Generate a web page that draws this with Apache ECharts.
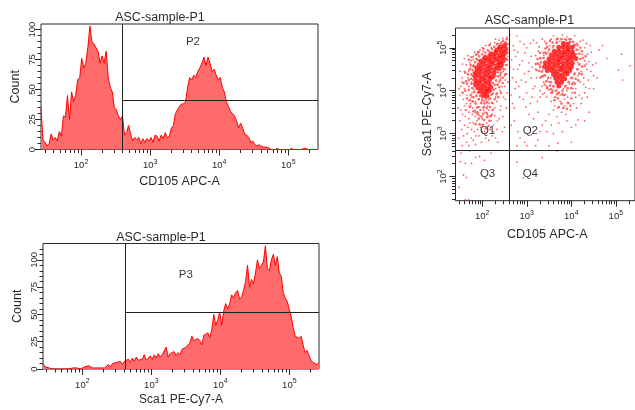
<!DOCTYPE html>
<html><head><meta charset="utf-8">
<style>html,body{margin:0;padding:0;background:#fff;overflow:hidden}#c{width:635px;height:410px}</style>
<script src="https://cdn.jsdelivr.net/npm/echarts@6/dist/echarts.min.js"></script></head>
<body><div id="c"></div>
<script>
const titleText = 'ASC-sample-P1';
const countTicks = [0,25,50,75,100];
const decades = [2,3,4,5];
// Histogram heights, every ~2px from the left edge of each plot
const cd105Counts = [34,8,6,3,5,13,8,10,7,15,11,28,27,45,25,48,40,45,58,60,76,68,72,85,103,90,88,85,82,72,78,72,82,60,52,48,35,33,28,25,28,12,14,20,13,7,10,8,10,5,9,6,9,7,10,6,12,11,7,12,9,14,10,11,18,20,30,33,36,38,38,40,52,60,58,62,60,65,68,72,77,70,77,72,65,67,62,58,60,52,48,40,36,32,30,28,24,18,22,18,13,12,10,6,7,4,3,4,3,2,2,2,1,0,0,0,1,0,0,0,0,0,0,1,0,0,0,0,0,1,1,0,0,0,0,0,0];
const sca1Counts = [5,2,2,1,0,0,0,0,0,0,1,0,0,0,0,1,0,1,1,0,1,2,1,3,2,1,2,1,2,1,1,1,2,4,2,5,4,6,5,7,4,7,6,9,6,10,7,11,8,7,9,13,8,10,12,9,13,10,14,11,13,12,20,11,14,13,16,12,15,13,18,17,20,22,24,30,26,25,28,26,22,31,30,33,29,36,50,40,45,52,40,53,60,55,60,68,65,70,72,64,66,72,80,95,75,82,78,88,100,92,95,98,113,92,90,100,105,95,103,88,85,70,65,62,55,48,38,30,30,28,30,22,15,17,12,8,6,5,4,6];
// Gate positions in data units
const gateHist1 = {x:393, y:41}, gateHist2 = {x:420, y:52}, gateDot = {x:400, y:420};
// Scatter values, as log10(CD105), log10(Sca1) pairs
const coreLeft = [[2.4,5.02],[2.5,5.05],[2.33,4.95],[2.43,4.93],[2.53,4.96],[2.2,4.86],[2.3,4.87],[2.4,4.84],[2.5,4.87],[2.07,4.78],[2.17,4.77],[2.27,4.79],[2.37,4.76],[2.47,4.79],[1.98,4.69],[2.08,4.7],[2.18,4.68],[2.28,4.71],[2.38,4.67],[2.47,4.7],[1.93,4.6],[2.03,4.61],[2.13,4.59],[2.23,4.62],[2.33,4.59],[2.43,4.61],[1.88,4.51],[1.98,4.52],[2.08,4.5],[2.18,4.53],[2.28,4.5],[2.38,4.52],[1.86,4.42],[1.96,4.43],[2.06,4.41],[2.16,4.44],[2.26,4.41],[1.84,4.33],[1.94,4.34],[2.04,4.32],[2.14,4.35],[2.23,4.32],[1.87,4.24],[1.97,4.25],[2.07,4.23],[2.17,4.26],[1.85,4.16],[1.95,4.16],[2.05,4.14],[2.15,4.17],[1.9,4.07],[2,4.07],[2.1,4.05],[2.19,4.08],[1.96,3.98],[2.06,3.97],[2.14,3.99],[2.02,3.89],[2.11,3.88]];
const coreRight = [[3.82,5.1],[3.92,5.08],[3.72,5.01],[3.82,5.01],[3.92,4.99],[4.02,5.01],[3.62,4.92],[3.72,4.92],[3.82,4.91],[3.92,4.92],[4.02,4.91],[3.55,4.83],[3.65,4.83],[3.75,4.82],[3.85,4.84],[3.95,4.82],[4.05,4.83],[3.5,4.74],[3.6,4.74],[3.7,4.73],[3.8,4.75],[3.9,4.73],[4,4.74],[4.1,4.75],[3.42,4.65],[3.52,4.65],[3.62,4.64],[3.72,4.66],[3.82,4.64],[3.92,4.65],[4.02,4.64],[3.4,4.56],[3.5,4.56],[3.6,4.55],[3.7,4.57],[3.8,4.55],[3.9,4.56],[4,4.55],[3.46,4.47],[3.56,4.47],[3.66,4.46],[3.76,4.48],[3.86,4.46],[3.96,4.47],[3.6,4.38],[3.7,4.38],[3.8,4.37],[3.9,4.39],[3.65,4.29],[3.75,4.29],[3.85,4.28],[3.68,4.2],[3.78,4.2],[3.72,4.11]];
const haloDots = [
[2.55,5.2],[2.47,5.16],[2.52,5.12],[2.42,5.1],[2.57,5.08],[2.33,5.08],[2.27,5.02],[2.22,4.97],[2.14,4.93],[2.07,4.89],[2.0,4.85],[1.93,4.8],[1.88,4.73],[1.84,4.66],[1.8,4.57],[1.78,4.48],[1.76,4.38],[1.75,4.28],[1.76,4.16],[1.78,4.06],[1.82,3.97],[1.87,3.88],[1.92,3.8],[1.98,3.72],[2.05,3.7],[2.12,3.74],[2.18,3.82],[2.22,3.92],[2.26,4.02],[2.28,4.14],[2.31,4.24],[2.36,4.33],[2.42,4.42],[2.48,4.5],[2.53,4.6],[2.56,4.72],[2.57,4.88],
[2.36,5.0],[2.46,5.0],[2.28,4.93],[2.14,4.84],[2.02,4.76],[1.92,4.7],[1.84,4.56],[1.81,4.42],[1.8,4.25],[1.83,4.1],[1.9,3.96],[2.2,4.0],[2.24,4.18],[2.3,4.34],[2.35,4.43],[2.45,4.55],[2.53,4.75],[1.95,3.88],[2.08,3.8],[2.0,3.78],
[1.72,4.5],[1.7,4.25],[1.7,4.02],[1.74,3.9],[1.68,4.38],[1.66,4.16],[1.8,3.85],[1.85,3.7],[1.9,3.62],[1.96,3.55],[2.04,3.62],[2.1,3.6],[2.17,3.62],[2.22,3.72],[2.28,3.8],[2.32,3.92],[2.38,4.08],[2.4,4.24],[2.46,4.3],[1.86,4.84],[1.92,4.9],[2.03,4.98],[2.16,5.06],
[1.9,3.45],[1.98,3.4],[2.04,3.32],[2.1,3.48],[2.16,3.3],[1.94,3.22],[2.0,3.2],[2.08,3.12],[2.14,3.18],[1.85,3.22],
[1.62,4.42],[1.64,4.22],[1.62,4.0],[1.66,3.82],[1.72,3.78],[1.78,3.75],[1.74,4.6],[1.7,4.72],[1.76,4.78],[1.58,4.18],[1.56,3.95],[1.72,3.62],[1.8,3.52],[1.86,3.5],[1.92,3.35],[2.02,3.46],[2.24,3.55],[2.12,3.4],[2.2,3.42],[2.36,3.85],[2.42,3.95],[2.34,4.14],[2.46,4.18],[2.52,4.38],[2.4,4.36],
[3.78,5.2],[3.88,5.18],[3.98,5.14],[3.68,5.12],[3.6,5.04],[3.5,4.96],[3.44,4.86],[3.38,4.76],[3.32,4.66],[3.3,4.55],[3.34,4.44],[3.4,4.36],[3.48,4.3],[3.54,4.2],[3.6,4.1],[3.65,4.0],[3.72,3.96],[3.8,4.0],[3.86,4.1],[3.94,4.2],[4.02,4.3],[4.08,4.4],[4.14,4.5],[4.18,4.62],[4.2,4.74],[4.18,4.86],[4.12,4.96],[4.08,5.06],
[3.68,5.2],[3.58,5.12],[3.96,5.2],[4.04,5.14],[4.14,5.06],[3.46,5.02],[3.38,4.88],[3.3,4.76],[3.26,4.62],[3.28,4.46],[3.36,4.34],[3.44,4.22],[3.52,4.12],[3.58,4.0],[3.68,3.92],[3.8,3.92],[3.92,4.06],[4.02,4.16],[4.1,4.28],[4.18,4.4],[4.24,4.56],[4.26,4.76],[4.24,4.92],
[3.55,3.95],[3.62,3.78],[3.7,3.82],[3.78,3.7],[3.85,3.9],[3.92,3.72],[4.0,3.82],[4.08,3.95],[3.72,3.62],[3.82,3.6],[3.9,3.58],[3.98,3.65],
[3.2,4.62],[3.22,4.48],[3.24,4.74],[3.3,4.88],[3.42,4.98],[3.32,4.32],[3.4,4.14],[3.46,4.06],[3.54,4.04],[4.0,4.06],[4.08,4.16],[4.16,4.24],[4.24,4.38],[4.3,4.58],[4.32,4.8],[4.2,5.0],[3.52,5.16],[3.44,5.1]
];
const sparseDots = [
[1.5,3.9],[1.55,4.2],[1.6,4.45],[1.65,3.7],[1.7,4.1],[1.72,4.65],[1.75,3.85],[1.78,4.35],[1.8,4.8],[1.6,4.05],[1.68,4.3],[1.52,4.1],[1.62,3.55],[1.7,3.5],[1.74,4.55],[1.77,3.95],[1.8,4.6],[1.83,4.9],[1.85,3.75],[1.88,3.6],[1.9,4.85],[1.93,3.8],[1.95,4.95],[1.98,3.7],[2,5.0],[2.03,3.55],[2.05,3.75],[2.08,5.05],[2.12,3.65],[2.15,3.8],[2.2,3.9],[2.18,5.1],[2.25,3.95],[2.28,5.12],[2.3,4.05],[2.35,4.15],[2.38,5.18],[2.42,4.3],[2.46,5.22],[2.5,4.35],[2.55,5.25],[2.4,4.0],[2.33,3.75],[2.28,3.6],[2.22,3.45],[2.5,4.1],[2.56,4.6],[2.57,4.8],[2.55,4.4],[2.48,3.85],[2.42,3.65],
[1.46,3.6],[1.5,3.3],[1.54,3.1],[1.58,2.95],[1.62,3.4],[1.65,2.8],[1.68,3.15],[1.72,3.25],[1.75,2.9],[1.78,3.45],[1.82,3.05],[1.85,2.75],[1.88,3.3],[1.9,3.5],[1.93,2.95],[1.96,3.15],[1.98,2.8],[2.0,3.35],[2.02,3.6],[2.05,3.05],[2.08,2.9],[2.1,3.25],[2.12,3.45],[2.15,2.85],[2.18,3.1],[2.2,3.3],[2.22,2.95],[2.25,3.2],[2.3,2.9],[2.33,3.1],[2.38,3.35],[2.45,3.05],[2.5,3.15],[1.55,2.72],[1.7,2.72],[1.6,3.65],[1.74,3.65],[1.84,3.4],[1.94,3.42],[1.99,3.05],[2.03,3.22],[2.06,3.5],[2.1,3.38],[2.14,3.55],[2.17,3.4],[1.47,2.9],[1.52,3.55],[1.66,3.0],[1.8,2.85],[2.28,3.42],[2.35,2.8],
[1.51,2.35],[1.62,2.31],[1.76,2.31],[1.94,2.47],[1.58,2.04],[1.62,1.46],[1.69,1.46],[1.52,2.55],[1.72,2.6],[2.05,2.38],[2.2,2.55],[1.85,2.45],[1.65,1.98],[1.48,1.75],
[2.78,2.34],[2.92,1.97],[3.35,2.45],[3.68,2.6],
[2.62,5.3],[2.7,5.05],[2.75,4.8],[2.8,4.5],[2.68,4.3],[2.72,4.95],[2.85,5.15],[2.9,4.7],[2.95,4.4],[2.82,4.1],[3,5.0],[3.05,4.65],[3.1,4.3],[3.0,3.95],[3.15,5.18],[3.2,4.82],[3.2,4.5],[3.18,4.1],[3.28,5.02],[3.3,4.3],[3.3,3.85],[3.35,5.2],[2.65,3.9],[2.72,3.6],[2.62,4.55],[2.78,5.28],[2.92,3.8],[2.88,4.25],[3.08,3.7],[3.12,4.55],[3.4,5.15],[3.42,4.9],[3.38,4.2],[3.45,4.1],[3.55,5.2],[3.6,5.28],[3.52,5.05],[3.7,5.22],[3.8,5.3],[3.9,5.25],[4.0,5.2],[4.08,5.28],[4.12,5.1],[4.15,4.95],[4.2,5.15],[4.25,4.85],[4.3,5.0],[4.18,4.6],[4.22,4.45],[4.3,4.7],[4.35,4.5],[4.15,4.35],[4.2,4.2],[4.28,4.15],[4.05,4.2],[4.1,4.05],[4.38,4.25],[4.45,4.9],[4.5,4.35],[4.55,4.65],[4.62,4.95],[4.4,4.05],[4.5,4.05],[4.58,4.3],
[3.3,4.0],[3.4,3.95],[3.45,3.85],[3.5,4.02],[3.55,3.75],[3.58,3.95],[3.62,3.65],[3.65,3.85],[3.7,3.6],[3.72,3.95],[3.75,3.75],[3.78,3.5],[3.82,3.9],[3.85,3.65],[3.88,3.45],[3.92,3.85],[3.95,3.7],[3.98,3.55],[4.02,3.95],[4.05,3.7],[4.1,3.85],[4.12,3.6],[4.18,3.9],[4.22,3.7],[4.3,3.95],[3.6,3.55],[3.5,3.45],[3.68,3.4],[3.42,3.3],[3.35,3.2],[3.55,3.2],[3.45,3.05],[3.3,3.05],[3.6,3.0],[3.72,3.25],[3.8,3.05],[3.9,3.3],[4,3.15],[4.1,3.2],[4.15,3.32],[4.3,3.3],[4.4,3.5],[3.25,2.85],[3.1,2.98],[3.05,3.15],[2.95,2.8],[3.0,2.72],[3.2,2.72],[3.5,2.72],[3.7,2.78],[4.0,2.8],[2.8,3.05],[2.72,3.3],[2.65,3.2],[2.85,2.9],[2.78,2.72],[3.15,3.35],[3.25,3.5],[3.05,3.45],
[4.7,5.05],[5.13,4.85],[5.32,4.58],[5.15,4.25],[5.06,4.48],[4.8,4.75],
[1.55,4.3],[1.58,3.8],[1.64,4.6],[1.66,3.9],[1.7,4.45],[1.74,3.7],[1.76,4.2],[1.78,3.6],[1.8,3.75],[1.82,4.02],[1.84,3.55],[1.75,4.7],[1.8,4.72],[1.86,4.75],[1.9,4.9],[1.94,3.62],[2,3.82],[2.06,3.85],[2.1,3.72],[2.16,3.7],[2.24,3.7],[2.3,3.85],[2.34,3.95],[2.38,4.2],[2.44,4.1],[2.47,4.45],[2.52,4.5],[2.52,4.25],[2.3,5.2],[2.36,5.1],[2.44,5.14],[2.2,5.0],[2.12,4.95],[2.02,4.92],[2.54,5.12],[2.55,4.75],[2.57,5.0],
[3.3,4.6],[3.32,4.75],[3.36,4.48],[3.38,4.82],[3.42,4.35],[3.46,4.25],[3.5,4.2],[3.48,4.9],[3.58,5.0],[3.66,5.12],[3.74,5.15],[3.85,5.2],[3.96,5.14],[4.06,5.08],[4.12,4.85],[4.14,4.66],[4.12,4.5],[4.06,4.38],[3.98,4.3],[3.96,4.15],[3.88,4.12],[3.82,4.05],[3.68,4.02],[3.6,4.12],[3.54,4.3],[4.04,4.05],[3.9,4.0],[3.62,3.85],[3.75,3.9],[3.85,3.8],
[1.56,4.62],[1.6,4.75],[1.68,4.82],[1.5,4.45],[1.48,4.05],[1.56,3.45],[1.6,3.2],[1.64,3.55],[1.7,3.35],[1.76,3.1],[1.8,3.25],[1.86,2.95],[1.9,3.1],[2.26,3.05],[2.34,3.3],[2.4,3.55],[2.46,3.4],[2.54,3.6],[2.52,3.8],[2.56,3.95],[2.58,4.2],
[2.66,4.72],[2.7,4.5],[2.76,4.2],[2.8,4.9],[2.84,4.6],[2.96,4.88],[2.98,4.2],[3.04,4.45],[3.1,4.8],[3.14,4.05],[3.22,4.3],[3.24,4.65],[3.26,4.92],[2.94,5.08],[3.08,5.1],[3.22,5.12],[3.34,4.1],[3.36,3.92],[3.24,3.75],[3.12,3.85],[2.98,3.62],[2.84,3.85],[2.74,4.05],[2.68,3.7],
[4.28,4.3],[4.34,4.62],[4.36,4.85],[4.4,4.68],[4.44,4.45],[4.48,4.6],[4.32,4.08],[4.36,3.85],[4.24,3.82],[4.34,5.1],[4.26,5.18],[4.42,5.05]
];
const xMinor = [], xMajor = decades.map(d => Math.pow(10,d));
[1,2,3,4,5].forEach(d => [1,2,3,4,5,6,7,8,9].forEach(m => { const v = m*Math.pow(10,d); if (v>26 && v<2.7e5) xMinor.push(v); }));
const dec = e => Math.pow(10,e);
const ink = '#2a2a2a', font = 'Liberation Sans';
const supLabel = v => '{a|10}{b|' + Math.round(Math.log10(v)) + '}';
const rich = {a:{fontSize:9.5,color:ink,fontFamily:font},b:{fontSize:7,color:ink,fontFamily:font,verticalAlign:'bottom',padding:[0,0,7,0]}};
const rect = [{l:41,t:24,w:277,h:125.5,xr:[1.42,5.43],ymax:104.7},{l:43,t:243.5,w:276,h:125.5,xr:[1.43,5.43],ymax:115},{l:455.5,t:28,w:185.5,h:172.7,xr:[1.4,5.43]}];
const grids = rect.map(r => ({left:r.l,top:r.t,width:r.w,height:r.h,show:true,borderColor:ink,borderWidth:1,backgroundColor:'transparent',containLabel:false}));
const names = ['CD105 APC-A','Sca1 PE-Cy7-A','CD105 APC-A'];
const nameGap = [26,25,27];
const namePad = [[0,0,0,0],[0,0,0,0],[0,0,0,4]];
const xAxes = [], yAxes = [];
rect.forEach((r,i) => {
  const base = {type:'log',logBase:10,gridIndex:i,position:'bottom',min:dec(r.xr[0]),max:dec(r.xr[1]),splitLine:{show:false},minorSplitLine:{show:false},axisLine:{show:false}};
  xAxes.push({...base,axisLabel:{show:false},axisTick:{show:true,length:3.5,inside:false,customValues:xMinor,lineStyle:{color:ink,width:1}}});
  xAxes.push({...base,name:names[i],nameLocation:'middle',nameGap:nameGap[i],nameTextStyle:{fontFamily:font,fontSize:i===1?12:12.5,color:ink,padding:namePad[i]},
    axisTick:{show:true,length:6,customValues:xMajor,lineStyle:{color:ink,width:1}},
    axisLabel:{show:true,customValues:xMajor,margin:9,formatter:supLabel,rich}});
});
[0,1].forEach(i => yAxes.push({type:'value',gridIndex:i,position:'left',min:0,max:rect[i].ymax,interval:25,name:'Count',nameLocation:'middle',nameGap:19,nameTextStyle:{fontFamily:font,fontSize:12.5,color:ink},
  splitLine:{show:false},axisLine:{show:false},
  axisTick:{show:true,length:6,customValues:countTicks,lineStyle:{color:ink}},minorTick:{show:true,splitNumber:5,length:3.5,lineStyle:{color:ink}},
  axisLabel:{customValues:countTicks,rotate:90,margin:4,fontSize:9.5,color:ink,fontFamily:font}}));
const yBase = {type:'log',logBase:10,gridIndex:2,position:'left',min:dec(1.44),max:dec(5.46),splitLine:{show:false},axisLine:{show:false}};
yAxes.push({...yBase,axisLabel:{show:false},axisTick:{show:true,length:3.5,customValues:xMinor,lineStyle:{color:ink}}});
yAxes.push({...yBase,name:'Sca1 PE-Cy7-A',nameLocation:'middle',nameGap:22,nameTextStyle:{fontFamily:font,fontSize:12,color:ink},
  axisTick:{show:true,length:6,customValues:xMajor,lineStyle:{color:ink}},
  axisLabel:{customValues:xMajor,rotate:90,margin:5,formatter:supLabel,rich}});
const bins = (counts,r,n) => counts.map((c,i) => [dec(r.xr[0] + (r.xr[1]-r.xr[0])*i/(n-1)), c]);
const gateLine = {color:'#222',width:1,type:'solid'};
const marks = (g,ymax) => ({silent:true,symbol:'none',animation:false,label:{show:false},lineStyle:gateLine,data:[
  [{coord:[g.x,0]},{coord:[g.x,ymax]}],
  [{coord:[g.x,g.y]},{coord:[dec(5.43),g.y]}]]});
const histSeries = (counts,i,g,xi) => ({type:'line',xAxisIndex:xi,yAxisIndex:i,data:bins(counts,rect[i],counts.length),symbol:'none',smooth:false,
  lineStyle:{color:'#ff0000',width:1},areaStyle:{color:'#ff6b6b',opacity:1},clip:true,markLine:marks(g,rect[i].ymax),z:2,silent:true});
const labelSeries = (xi,yi,items) => ({type:'scatter',xAxisIndex:xi,yAxisIndex:yi,symbolSize:0,silent:true,z:5,
  data:items.map(t => ({value:[t[0],t[1]],label:{show:true,position:'inside',formatter:t[2],fontFamily:font,fontSize:11.5,color:'#000'}}))});
const toDots = a => a.map(p => [dec(p[0]),dec(p[1])]);
const dotSeries = (d,size,color,op,extra) => ({type:'scatter',xAxisIndex:4,yAxisIndex:2,data:toDots(d),symbolSize:size,itemStyle:{color,opacity:op},silent:true,z:2,...extra});
const option = {animation:false,backgroundColor:'#fff',
  title:[[155,6],[156,226],[524.5,9]].map(p => ({text:titleText,left:p[0],top:p[1],textAlign:'center',textStyle:{fontFamily:font,fontSize:12.5,fontWeight:'normal',color:ink}})),
  grid:grids,xAxis:xAxes,yAxis:yAxes,
  series:[
    histSeries(cd105Counts,0,gateHist1,0),
    histSeries(sca1Counts,1,gateHist2,2),
    labelSeries(0,0,[[dec(3.62),90,'P2']]),
    labelSeries(2,1,[[dec(3.5),86,'P3']]),
    dotSeries(haloDots,2.6,'#ff2a2a',.7),
    dotSeries(coreLeft,5,'#ff0000',.78),
    dotSeries(coreRight,5,'#ff0000',.78),
    dotSeries(sparseDots,1.7,'#ff3030',.8,{markLine:{silent:true,symbol:'none',animation:false,label:{show:false},lineStyle:gateLine,data:[
        [{coord:[gateDot.x,dec(1.44)]},{coord:[gateDot.x,dec(5.46)]}],
        [{coord:[dec(1.4),gateDot.y]},{coord:[dec(5.43),gateDot.y]}]]}}),
    labelSeries(4,2,[[dec(2.12),dec(3.06),'Q1'],[dec(3.08),dec(3.06),'Q2'],[dec(2.12),dec(2.06),'Q3'],[dec(3.08),dec(2.06),'Q4']])
  ]};
echarts.init(document.getElementById('c'),null,{renderer:'canvas'}).setOption(option);
</script></body></html>
